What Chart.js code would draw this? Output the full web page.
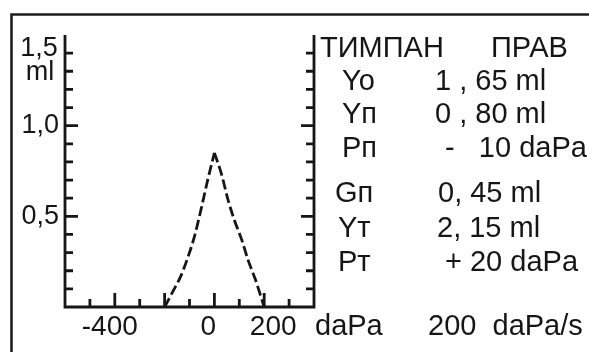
<!DOCTYPE html>
<html><head><meta charset="utf-8">
<script src="https://cdn.jsdelivr.net/npm/chart.js@4.4.1/dist/chart.umd.min.js"></script>
<style>
html,body{margin:0;padding:0;background:#fff;}
#wrap{width:589px;height:352px;position:relative;overflow:hidden;}
canvas{display:block;}
</style>
</head><body>
<div id="wrap"><canvas id="c" width="589" height="352"></canvas></div>
<script>
// ---- data ----
const pressureLeft    = [-200, -165, -135, -110, -80, -55, -27, 0];
const admittanceLeft  = [0, 0.09, 0.17, 0.26, 0.39, 0.53, 0.70, 0.85];
const pressureRight   = [0, 27, 55, 80, 110, 135, 165, 200];
const admittanceRight = [0.85, 0.74, 0.59, 0.48, 0.37, 0.26, 0.15, 0];

const xMinorTicks = [-500, -300, -100, 100, 300];
const xMajorTicks = [-400, -200, 0, 200];
const xLabelValues = [-400, 0, 200];
const xLabelTexts  = ['-400', '0', '200'];
const xUnit = 'daPa';

const yMinorTicks = [0.1, 0.2, 0.3, 0.4, 0.6, 0.7, 0.8, 0.9, 1.1, 1.2, 1.3, 1.4];
const yMajorTicks = [0.5, 1.0];
const yLabelValues = [0.5, 1.0];
const yLabelTexts  = ['0,5', '1,0'];
const yTopLabel = '1,5';
const yUnit = 'ml';

const infoTitle = ['ТИМПАН', 'ПРАВ'];
const infoNames  = ['Yo', 'Yп', 'Pп', 'Gп', 'Yт', 'Pт'];
const infoValues = ['1 , 65 ml', '0 , 80 ml', '-   10 daPa', '0, 45 ml', '2, 15 ml', '+ 20 daPa'];
const speedText = '200  daPa/s';

// ---- layout / style ----
const FONT = '"Liberation Sans", Arial, sans-serif';
const INK = '#161616';
const nameX = [342, 342, 342, 335, 338, 338];
const valueX = [435, 435, 445, 438, 437, 445];
const rowBase = [90, 123, 157, 202, 237, 271];
const xLabelShift = [-5, -6, 9];

const toPts = (xs, ys) => xs.map((p, i) => ({x: p, y: ys[i]}));

const decor = {
  id: 'decor',
  beforeDraw(chart) {
    const ctx = chart.ctx;
    ctx.save();
    ctx.fillStyle = '#fff';
    ctx.fillRect(0, 0, chart.width, chart.height);
    ctx.strokeStyle = '#1e1e1e';
    ctx.lineWidth = 2.6;
    ctx.beginPath();
    ctx.moveTo(11.5, 400);
    ctx.lineTo(11.5, 14.5);
    ctx.lineTo(700, 14.5);
    ctx.stroke();
    ctx.restore();
  },
  afterDatasetsDraw(chart) {
    const ctx = chart.ctx;
    const xs = chart.scales.x, ys = chart.scales.y;
    const L = xs.getPixelForValue(xs.min), R = xs.getPixelForValue(xs.max);
    const B = ys.getPixelForValue(0), T = ys.getPixelForValue(ys.max);
    ctx.save();
    ctx.strokeStyle = INK;
    ctx.lineWidth = 2.8;
    ctx.lineCap = 'butt';
    ctx.beginPath();
    ctx.moveTo(L, T); ctx.lineTo(L, B); ctx.lineTo(R, B); ctx.lineTo(R, T);
    ctx.stroke();
    ctx.beginPath();
    const yt = (v, len) => {
      const p = ys.getPixelForValue(v);
      ctx.moveTo(L, p); ctx.lineTo(L + len, p);
      ctx.moveTo(R, p); ctx.lineTo(R - len, p);
    };
    yMinorTicks.forEach(v => yt(v, 8));
    yMajorTicks.forEach(v => yt(v, 13));
    const xt = (v, len) => {
      const p = xs.getPixelForValue(v);
      ctx.moveTo(p, B); ctx.lineTo(p, B - len);
    };
    xMinorTicks.forEach(v => xt(v, 8));
    xMajorTicks.forEach(v => xt(v, 14));
    ctx.stroke();

    ctx.fillStyle = INK;
    ctx.font = '27px ' + FONT;
    ctx.textAlign = 'right';
    ctx.textBaseline = 'middle';
    yLabelValues.forEach((v, i) => ctx.fillText(yLabelTexts[i], L - 6, ys.getPixelForValue(v)));
    ctx.textAlign = 'center';
    ctx.fillText(yTopLabel, 39, T + 14);
    ctx.fillText(yUnit, 40, T + 38);
    ctx.font = '28px ' + FONT;
    ctx.textBaseline = 'alphabetic';
    xLabelValues.forEach((v, i) => ctx.fillText(xLabelTexts[i], xs.getPixelForValue(v) + xLabelShift[i], 335));
    ctx.textAlign = 'left';
    ctx.font = '29px ' + FONT;
    ctx.fillText(xUnit, 315, 335);
    ctx.fillText(speedText, 428, 335);
    ctx.fillText(infoTitle[0], 320, 57);
    ctx.fillText(infoTitle[1], 491, 57);
    infoNames.forEach((n, i) => {
      ctx.fillText(n, nameX[i], rowBase[i]);
      ctx.fillText(infoValues[i], valueX[i], rowBase[i]);
    });
    ctx.restore();
  }
};

const lineStyle = {
  showLine: true,
  borderColor: INK,
  borderWidth: 2.8,
  borderDash: [10, 4],
  pointRadius: 0,
  cubicInterpolationMode: 'monotone',
  fill: false,
  clip: false
};

new Chart(document.getElementById('c'), {
  type: 'scatter',
  data: {
    datasets: [
      Object.assign({data: toPts(pressureLeft, admittanceLeft)}, lineStyle),
      Object.assign({data: toPts(pressureRight, admittanceRight)}, lineStyle)
    ]
  },
  options: {
    responsive: false,
    animation: false,
    devicePixelRatio: 1,
    layout: {padding: {left: 65, right: 275, top: 35, bottom: 45}},
    plugins: {legend: {display: false}, tooltip: {enabled: false}, title: {display: false}},
    scales: {
      x: {type: 'linear', min: -600, max: 400, display: false},
      y: {type: 'linear', min: 0, max: 1.5, display: false}
    }
  },
  plugins: [decor]
});
</script>
</body></html>
